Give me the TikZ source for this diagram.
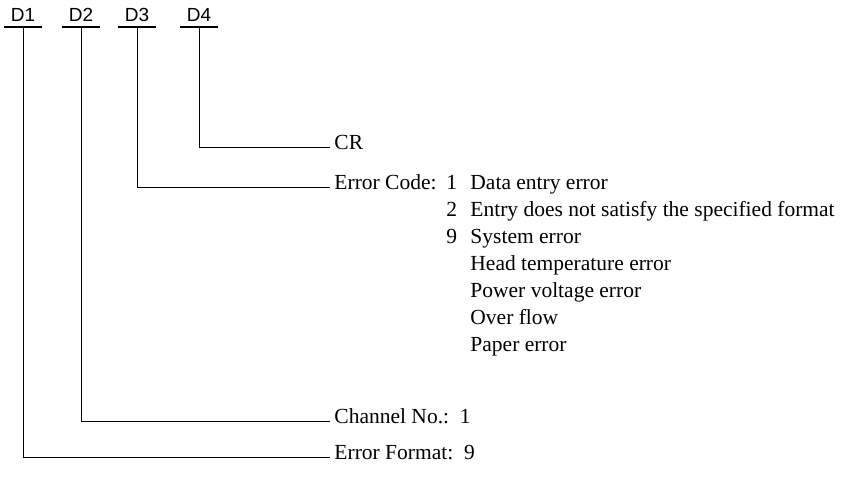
\documentclass[tikz,border=0pt]{standalone}
\usepackage{fontspec}
\setmainfont{Liberation Serif}
\setsansfont{Liberation Sans}
\usetikzlibrary{positioning}

\tikzset{
  field/.style={font=\sffamily\fontsize{19}{19}\selectfont, anchor=south,
    inner xsep=0pt, inner ysep=5pt, minimum width=37pt},
  desc/.style={font=\fontsize{21.5}{21.5}\selectfont, anchor=mid west,
    inner xsep=4pt, inner ysep=0pt},
  item/.style={font=\fontsize{21.5}{21.5}\selectfont, anchor=mid west, inner sep=0pt}
}

\begin{document}
\begin{tikzpicture}[x=1pt, y=-1pt, line width=0.9pt]
  \useasboundingbox (0,0) rectangle (853,477);
  % data fields
  \node [field] (d1) at (23,27) {D1};
  \node [field] (d2) at (81,27) {D2};
  \node [field] (d3) at (137,27) {D3};
  \node [field] (d4) at (199,27) {D4};
  \foreach \d in {d1,d2,d3,d4}
    \draw [line width=1.4pt] (\d.south west) -- (\d.south east);

  % meanings
  \node [desc] (cr) at (330,147.5) {CR};
  \node [desc] (code) at (330,187) {Error Code:};
  \node [desc] (chan) at (330,421) {Channel No.:\ \ 1};
  \node [desc] (fmt) at (330,457) {Error Format:\ \ 9};

  % error codes
  \node [item] (c1) at (446,187) {1};
  \node [item] (c2) at (446,214) {2};
  \node [item] (c9) at (446,241) {9};
  \node [item] (e1) at (470,187) {Data entry error};
  \node [item] (e2) at (470,214) {Entry does not satisfy the specified format};
  \node [item] (e3) at (470,241) {System error};
  \node [item] (e4) at (470,268) {Head temperature error};
  \node [item] (e5) at (470,295) {Power voltage error};
  \node [item] (e6) at (470,322) {Over flow};
  \node [item] (e7) at (470,349) {Paper error};

  % leaders
  \draw (d4.south) |- (cr.mid west);
  \draw (d3.south) |- (code.mid west);
  \draw (d2.south) |- (chan.mid west);
  \draw (d1.south) |- (fmt.mid west);
\end{tikzpicture}
\end{document}
